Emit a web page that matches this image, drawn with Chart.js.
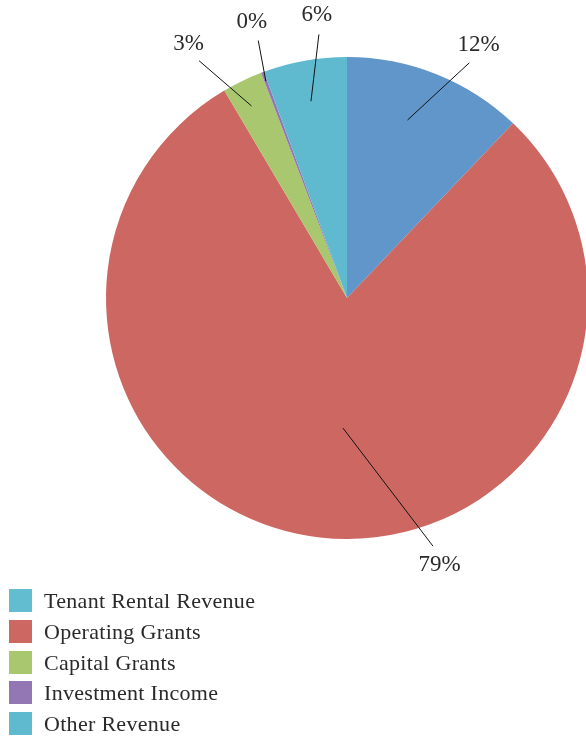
<!DOCTYPE html>
<html>
<head>
<meta charset="utf-8">
<script src="https://cdn.jsdelivr.net/npm/chart.js@4/dist/chart.umd.min.js"></script>
<style>
  html, body { margin: 0; padding: 0; width: 586px; height: 736px; overflow: hidden; background: #fff; }
  #pie { position: absolute; left: 0; top: 0; }
  #legend { position: absolute; left: 9px; top: 589px; z-index: 2; font-family: "Liberation Serif", serif; font-size: 22px; letter-spacing: 0.3px; color: #2a2a2a; }
  .row { height: 30.8px; display: flex; align-items: flex-start; }
  .sw { width: 23px; height: 23px; margin-right: 12px; flex: none; }
  .tx { line-height: 24px; white-space: nowrap; }
</style>
</head>
<body>
<canvas id="pie" width="694" height="590"></canvas>
<div id="legend"></div>
<script>
// revenue shares, percent
var Categories = ["Tenant Rental Revenue", "Operating Grants", "Capital Grants", "Investment Income", "Other Revenue"];
var Shares = [12.1, 79.4, 2.7, 0.2, 5.6];
var SliceColors = ["#6096c9", "#cc6761", "#a9c76f", "#9277b4", "#5fbad0"];
var LegendColors = ["#62bdd0", "#cc6761", "#a9c76f", "#9277b4", "#5fbad0"];

// leader line for each label: [inner radius frac, inner angle shift (deg), outer radius frac, outer angle shift (deg)]
var _Leaders = [
    [0.78, -3.0, 1.10, 5.7],
    [0.54, -4.7, 1.09, -25.6],
    [0.89, -0.7, 1.16, -6.2],
    [0.96, 0.0, 1.13, 1.5],
    [0.83, -0.3, 1.10, 4.0]
];

function polar(arc, frac, deg) {
    var a = deg * Math.PI / 180;
    return { x: arc.x + Math.cos(a) * arc.outerRadius * frac, y: arc.y + Math.sin(a) * arc.outerRadius * frac };
}

var leaderLabels = {
    id: "leaderLabels",
    afterDatasetsDraw: function (chart) {
        var ctx = chart.ctx;
        var meta = chart.getDatasetMeta(0);
        var total = Shares.reduce(function (s, v) { return s + v; }, 0);
        ctx.save();
        ctx.strokeStyle = "#111";
        ctx.lineWidth = 1;
        ctx.fillStyle = "#2a2a2a";
        ctx.font = "23px 'Liberation Serif', serif";
        ctx.textAlign = "center";
        ctx.textBaseline = "middle";
        for (var i = 0; i < meta.data.length; i++) {
            var arc = meta.data[i].getProps(["x", "y", "startAngle", "endAngle", "outerRadius"], true);
            var mid = (arc.startAngle + arc.endAngle) / 2 * 180 / Math.PI;
            var L = _Leaders[i];
            var p1 = polar(arc, L[0], mid + L[1]);
            var p2 = polar(arc, L[2], mid + L[3]);
            ctx.beginPath();
            ctx.moveTo(p1.x, p1.y);
            ctx.lineTo(p2.x, p2.y);
            ctx.stroke();
            var a = (mid + L[3]) * Math.PI / 180;
            var tx = p2.x + Math.cos(a) * 20, ty = p2.y + Math.sin(a) * 20;
            ctx.fillText(Math.round(Shares[i] / total * 100) + "%", tx, ty);
        }
        ctx.restore();
    }
};

var PieChart = new Chart(document.getElementById("pie"), {
    type: "pie",
    data: {
        labels: Categories,
        datasets: [{
            data: Shares,
            backgroundColor: SliceColors,
            borderWidth: 0,
            hoverOffset: 0
        }]
    },
    options: {
        responsive: false,
        animation: false,
        devicePixelRatio: 1,
        layout: { padding: { left: 106, right: 106, top: 57, bottom: 51 } },
        plugins: { legend: { display: false }, tooltip: { enabled: false } }
    },
    plugins: [leaderLabels]
});

// legend
var legendBox = document.getElementById("legend");
for (var i = 0; i < Categories.length; i++) {
    var row = document.createElement("div");
    row.className = "row";
    row.innerHTML = '<div class="sw" style="background:' + LegendColors[i] + '"></div><div class="tx">' + Categories[i] + '</div>';
    legendBox.appendChild(row);
}
</script>
</body>
</html>
